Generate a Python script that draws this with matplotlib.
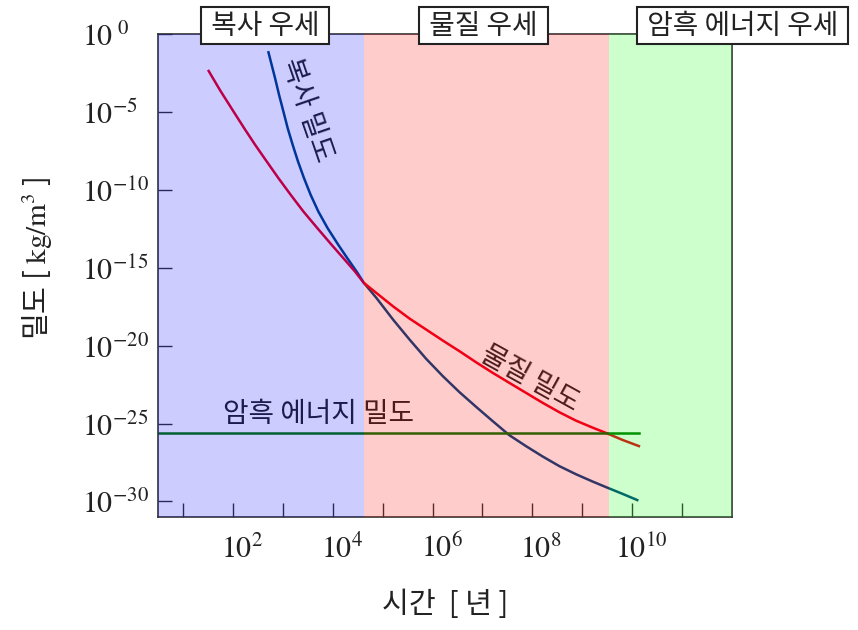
import numpy as np
import matplotlib
matplotlib.use("Agg")
import matplotlib.pyplot as plt
import matplotlib.transforms as mtransforms
from matplotlib.ticker import NullLocator

plt.rcParams['font.family'] = ['Noto Sans CJK KR', 'DejaVu Sans']
plt.rcParams['mathtext.fontset'] = 'stix'

# era boundaries (log10 of years) and names
era_names = ['복사 우세', '물질 우세', '암흑 에너지 우세']
era_edges = [0.5, 4.62, 9.54, 12.0]
era_colors = ['blue', 'red', 'lime']

# radiation density: log10 t [yr] vs log10 rho [kg/m^3]
rad_logt = [2.707, 2.84, 2.92, 3.007, 3.093, 3.193, 3.30, 3.42, 3.553, 3.707, 3.893,
            4.107, 4.287, 4.473, 4.62,
            4.873, 5.207, 5.54, 5.873, 6.207, 6.54, 6.873, 7.207, 7.54, 7.873, 8.207,
            8.54, 8.873, 9.207, 9.507, 9.807, 10.107]
rad_logrho = [-1.175, -2.842, -3.91, -4.979, -6.047, -7.115, -8.184, -9.252, -10.32,
              -11.389, -12.457, -13.526, -14.38, -15.235, -15.97,
              -16.94, -18.33, -19.62, -20.855, -21.966, -22.99, -23.93, -24.85, -25.75,
              -26.45, -27.115, -27.73, -28.25, -28.72, -29.12, -29.51, -29.915]

# matter density
mat_logt = [1.507, 1.74, 2.007, 2.22, 2.44, 2.673, 2.907, 3.153, 3.407, 3.687, 3.973,
            4.207, 4.44, 4.62,
            4.873, 5.207, 5.54, 5.873, 6.207, 6.54, 6.873, 7.207, 7.54, 7.873, 8.207,
            8.54, 8.873, 9.207, 9.507, 9.807, 10.14]
mat_logrho = [-2.372, -3.632, -4.979, -6.047, -7.115, -8.184, -9.252, -10.32, -11.389,
              -12.457, -13.526, -14.38, -15.235, -15.97,
              -16.624, -17.48, -18.27, -18.974, -19.68, -20.36, -21.07, -21.75, -22.39,
              -23.03, -23.67, -24.27, -24.81, -25.26, -25.64, -26.05, -26.45]

# dark energy density (constant)
de_logt = [0.5, 10.14]
de_logrho = [-25.64, -25.64]

x_major = [2, 4, 6, 8, 10]
y_major = [0, -5, -10, -15, -20, -25, -30]

fig = plt.figure(figsize=(8.58, 6.30), dpi=100)
ax = fig.add_axes([0.1847, 0.1794, 0.668, 0.7666])

ax.plot(10.0 ** np.array(rad_logt), 10.0 ** np.array(rad_logrho), color='#004480', lw=1.8, zorder=2)
ax.plot(10.0 ** np.array(mat_logt), 10.0 ** np.array(mat_logrho), color='#ec001a', lw=1.8, zorder=2)
ax.plot(10.0 ** np.array(de_logt), 10.0 ** np.array(de_logrho), color='#007800', lw=1.8, zorder=2)

# tinted era bands sit on top of the curves
for lo, hi, c in zip(era_edges[:-1], era_edges[1:], era_colors):
    ax.axvspan(10.0 ** lo, 10.0 ** hi, color=c, alpha=0.2, lw=0, zorder=3)

ax.set_xscale('log')
ax.set_yscale('log')
ax.set_xlim(10.0 ** era_edges[0], 10.0 ** era_edges[-1])
ax.set_ylim(1e-31, 1e0)

ax.set_xticks([10.0 ** k for k in range(1, 12)])
ax.set_xticklabels(['$10^{%d}$' % k if k in x_major else '' for k in range(1, 12)])
ax.xaxis.set_minor_locator(NullLocator())
ax.set_yticks([10.0 ** k for k in y_major])
ax.set_yticklabels([r'$10^{\ 0}$' if k == 0 else '$10^{%d}$' % k for k in y_major])
ax.yaxis.set_minor_locator(NullLocator())

ax.tick_params(axis='both', direction='in', length=10, width=1, color='#333333',
               labelsize=21.5, labelcolor='#222222')
ax.tick_params(axis='x', pad=12)
ax.tick_params(axis='y', pad=55)
for lab in ax.get_yticklabels():
    lab.set_horizontalalignment('left')
shift = mtransforms.ScaledTranslation(9 / 100, 0, fig.dpi_scale_trans)
for lab in ax.get_xticklabels():
    lab.set_transform(lab.get_transform() + shift)

for s in ax.spines.values():
    s.set_color('#333333')
    s.set_linewidth(1.2)

ax.set_xlabel('시간  [ 년 ]', fontsize=21, color='#222222')
ax.xaxis.set_label_coords(0.5, -0.152)
ax.set_ylabel(r'밀도 [ $\mathrm{kg/m^3}$ ]', fontsize=21, color='#222222')
ax.yaxis.set_label_coords(-0.182, 0.536)

# curve names
ax.text(10 ** 3.49, 10 ** -4.87, '복사 밀도', rotation=-71, rotation_mode='anchor',
        ha='center', va='center', fontsize=20, color='#222222', zorder=1.5)
ax.text(10 ** 7.95, 10 ** -22.08, '물질 밀도', rotation=-29, rotation_mode='anchor',
        ha='center', va='center', fontsize=20, color='#222222', zorder=1.5)
ax.text(10 ** 3.72, 10 ** -24.42, '암흑 에너지 밀도', ha='center', va='center',
        fontsize=20, color='#222222', zorder=1.5)

# era labels above the plot
trans = mtransforms.blended_transform_factory(ax.transData, ax.transAxes)
for name, xc in zip(era_names, [2.64, 7.02, 12.22]):
    ax.text(10 ** xc, 1.0176, ' ' + name + ' ', transform=trans, ha='center', va='center',
            fontsize=20, color='#222222', zorder=5, clip_on=False,
            bbox=dict(boxstyle='square,pad=0.14', fc='white', ec='#222222', lw=1.5))

fig.savefig('out.png', dpi=100)
